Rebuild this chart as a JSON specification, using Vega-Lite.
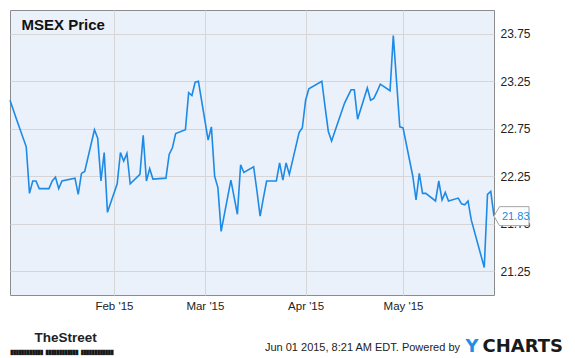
{
  "$schema": "https://vega.github.io/schema/vega-lite/v6.json",
  "width": 484,
  "height": 285,
  "autosize": {"type": "none"},
  "padding": {"left": 10, "top": 10, "right": 81, "bottom": 63},
  "background": "white",
  "config": {
    "view": {"fill": "#eaf1fb", "stroke": "#8c8c8c", "strokeWidth": 1},
    "font": "Liberation Sans",
    "axis": {"labelFont": "Liberation Sans", "titleFont": "Liberation Sans", "gridColor": "#d6d6d6", "gridWidth": 1, "gridOpacity": 1}
  },
  "data": {
    "values": [
      {"date": "2014-12-31", "price": 23.05},
      {"date": "2015-01-02", "price": 22.85},
      {"date": "2015-01-05", "price": 22.56},
      {"date": "2015-01-06", "price": 22.07},
      {"date": "2015-01-07", "price": 22.20},
      {"date": "2015-01-08", "price": 22.20},
      {"date": "2015-01-09", "price": 22.12},
      {"date": "2015-01-12", "price": 22.12},
      {"date": "2015-01-13", "price": 22.20},
      {"date": "2015-01-14", "price": 22.24},
      {"date": "2015-01-15", "price": 22.12},
      {"date": "2015-01-16", "price": 22.20},
      {"date": "2015-01-20", "price": 22.23},
      {"date": "2015-01-21", "price": 22.06},
      {"date": "2015-01-22", "price": 22.28},
      {"date": "2015-01-23", "price": 22.30},
      {"date": "2015-01-26", "price": 22.74},
      {"date": "2015-01-27", "price": 22.65},
      {"date": "2015-01-28", "price": 22.20},
      {"date": "2015-01-29", "price": 22.50},
      {"date": "2015-01-30", "price": 21.87},
      {"date": "2015-02-02", "price": 22.17},
      {"date": "2015-02-03", "price": 22.50},
      {"date": "2015-02-04", "price": 22.41},
      {"date": "2015-02-05", "price": 22.49},
      {"date": "2015-02-06", "price": 22.17},
      {"date": "2015-02-09", "price": 22.27},
      {"date": "2015-02-10", "price": 22.68},
      {"date": "2015-02-11", "price": 22.20},
      {"date": "2015-02-12", "price": 22.33},
      {"date": "2015-02-13", "price": 22.22},
      {"date": "2015-02-17", "price": 22.23},
      {"date": "2015-02-18", "price": 22.48},
      {"date": "2015-02-19", "price": 22.55},
      {"date": "2015-02-20", "price": 22.70},
      {"date": "2015-02-23", "price": 22.74},
      {"date": "2015-02-24", "price": 23.13},
      {"date": "2015-02-25", "price": 23.10},
      {"date": "2015-02-26", "price": 23.24},
      {"date": "2015-02-27", "price": 23.25},
      {"date": "2015-03-02", "price": 22.63},
      {"date": "2015-03-03", "price": 22.77},
      {"date": "2015-03-04", "price": 22.25},
      {"date": "2015-03-05", "price": 22.13},
      {"date": "2015-03-06", "price": 21.67},
      {"date": "2015-03-09", "price": 22.21},
      {"date": "2015-03-10", "price": 22.03},
      {"date": "2015-03-11", "price": 21.85},
      {"date": "2015-03-12", "price": 22.37},
      {"date": "2015-03-13", "price": 22.29},
      {"date": "2015-03-16", "price": 22.35},
      {"date": "2015-03-17", "price": 22.10},
      {"date": "2015-03-18", "price": 21.83},
      {"date": "2015-03-19", "price": 22.02},
      {"date": "2015-03-20", "price": 22.20},
      {"date": "2015-03-23", "price": 22.20},
      {"date": "2015-03-24", "price": 22.39},
      {"date": "2015-03-25", "price": 22.21},
      {"date": "2015-03-26", "price": 22.39},
      {"date": "2015-03-27", "price": 22.27},
      {"date": "2015-03-30", "price": 22.71},
      {"date": "2015-03-31", "price": 22.76},
      {"date": "2015-04-01", "price": 23.05},
      {"date": "2015-04-02", "price": 23.17},
      {"date": "2015-04-06", "price": 23.25},
      {"date": "2015-04-07", "price": 22.98},
      {"date": "2015-04-08", "price": 22.72},
      {"date": "2015-04-09", "price": 22.62},
      {"date": "2015-04-10", "price": 22.72},
      {"date": "2015-04-13", "price": 23.02},
      {"date": "2015-04-14", "price": 23.09},
      {"date": "2015-04-15", "price": 23.16},
      {"date": "2015-04-16", "price": 23.16},
      {"date": "2015-04-17", "price": 22.85},
      {"date": "2015-04-20", "price": 23.18},
      {"date": "2015-04-21", "price": 23.05},
      {"date": "2015-04-22", "price": 23.07},
      {"date": "2015-04-23", "price": 23.14},
      {"date": "2015-04-24", "price": 23.22},
      {"date": "2015-04-27", "price": 23.15},
      {"date": "2015-04-28", "price": 23.73},
      {"date": "2015-04-29", "price": 23.25},
      {"date": "2015-04-30", "price": 22.77},
      {"date": "2015-05-01", "price": 22.76},
      {"date": "2015-05-04", "price": 22.25},
      {"date": "2015-05-05", "price": 22.00},
      {"date": "2015-05-06", "price": 22.28},
      {"date": "2015-05-07", "price": 22.07},
      {"date": "2015-05-08", "price": 22.07},
      {"date": "2015-05-11", "price": 21.99},
      {"date": "2015-05-12", "price": 22.20},
      {"date": "2015-05-13", "price": 22.00},
      {"date": "2015-05-14", "price": 22.08},
      {"date": "2015-05-15", "price": 21.99},
      {"date": "2015-05-18", "price": 22.02},
      {"date": "2015-05-19", "price": 21.96},
      {"date": "2015-05-20", "price": 21.95},
      {"date": "2015-05-21", "price": 21.99},
      {"date": "2015-05-22", "price": 21.79},
      {"date": "2015-05-26", "price": 21.29},
      {"date": "2015-05-27", "price": 22.06},
      {"date": "2015-05-28", "price": 22.09},
      {"date": "2015-05-29", "price": 21.83}
    ]
  },
  "encoding": {
    "x": {
      "field": "date",
      "type": "temporal",
      "scale": {
        "type": "utc",
        "nice": false,
        "domain": [
          {"year": 2014, "month": 12, "date": 31, "utc": true},
          {"year": 2015, "month": 5, "date": 29, "utc": true}
        ]
      }
    },
    "y": {
      "field": "price",
      "type": "quantitative",
      "scale": {"domain": [21, 24], "nice": false, "zero": false}
    }
  },
  "resolve": {"axis": {"x": "independent", "y": "independent"}},
  "layer": [
    {
      "mark": {"type": "line", "color": "#1d8ae6", "strokeWidth": 1.6, "interpolate": "linear"},
      "encoding": {
        "x": {
          "field": "date",
          "type": "temporal",
          "axis": {
            "orient": "top",
            "values": [
              {"year": 2015, "month": 2, "date": 1, "utc": true},
              {"year": 2015, "month": 3, "date": 1, "utc": true},
              {"year": 2015, "month": 4, "date": 1, "utc": true},
              {"year": 2015, "month": 5, "date": 1, "utc": true}
            ],
            "grid": true,
            "labels": false,
            "ticks": false,
            "domain": false,
            "title": "MSEX Price",
            "titleX": 11,
            "titleY": 19.5,
            "titleAlign": "left",
            "titleAnchor": null,
            "titleAngle": 0,
            "titleBaseline": "alphabetic",
            "titleFontSize": 15,
            "titleFontWeight": "bold",
            "titleColor": "#111111"
          }
        },
        "y": {
          "field": "price",
          "type": "quantitative",
          "axis": {
            "orient": "right",
            "values": [21.25, 21.75, 22.25, 22.75, 23.25, 23.75],
            "format": ".2f",
            "grid": true,
            "ticks": false,
            "domain": false,
            "labelPadding": 6,
            "labelFontSize": 12,
            "labelColor": "#222222",
            "title": null
          }
        }
      }
    },
    {
      "transform": [{"filter": "utcmonth(datum.date) == 4 && utcdate(datum.date) == 29"}],
      "mark": {
        "type": "point",
        "shape": "M0,0L0.55,-0.95L3.5,-0.95L3.5,0.95L0.55,0.95Z",
        "size": 400,
        "filled": true,
        "fill": "white",
        "stroke": "#a3a3a3",
        "strokeWidth": 1,
        "opacity": 1
      },
      "encoding": {
        "x": {
          "field": "date",
          "type": "temporal",
          "axis": {
            "orient": "bottom",
            "values": [
              {"year": 2015, "month": 2, "date": 1, "utc": true},
              {"year": 2015, "month": 3, "date": 1, "utc": true},
              {"year": 2015, "month": 4, "date": 1, "utc": true},
              {"year": 2015, "month": 5, "date": 1, "utc": true}
            ],
            "labelExpr": "utcFormat(datum.value, \"%b '%y\")",
            "grid": false,
            "ticks": false,
            "domain": false,
            "labelPadding": 5,
            "labelFontSize": 11.5,
            "labelColor": "#222222",
            "title": "Jun 01 2015, 8:21 AM EDT.  Powered by",
            "titleX": 449.5,
            "titleY": 55,
            "titleAlign": "right",
            "titleAnchor": null,
            "titleBaseline": "alphabetic",
            "titleFontSize": 11,
            "titleFontWeight": "normal",
            "titleColor": "#222222"
          }
        },
        "y": {
          "field": "price",
          "type": "quantitative",
          "axis": {
            "orient": "left",
            "labels": false,
            "ticks": false,
            "domain": false,
            "grid": false,
            "title": "TheStreet",
            "titleAngle": 0,
            "titleX": 24,
            "titleY": 331,
            "titleAlign": "left",
            "titleAnchor": null,
            "titleBaseline": "alphabetic",
            "titleFont": "Liberation Sans",
            "titleFontSize": 13.5,
            "titleFontWeight": "bold",
            "titleColor": "#222222"
          }
        }
      }
    },
    {
      "transform": [{"filter": "utcmonth(datum.date) == 4 && utcdate(datum.date) == 29"}],
      "mark": {"type": "text", "align": "left", "baseline": "middle", "dx": 8, "dy": 1, "fontSize": 11, "color": "#1d8ae6"},
      "encoding": {
        "text": {"field": "price", "type": "quantitative", "format": ".2f"},
        "x": {
          "field": "date",
          "type": "temporal",
          "axis": {
            "orient": "bottom",
            "labels": false,
            "ticks": false,
            "domain": false,
            "grid": false,
            "title": "CHARTS",
            "titleX": 472,
            "titleY": 56,
            "titleAlign": "left",
            "titleAnchor": null,
            "titleBaseline": "alphabetic",
            "titleFont": "DejaVu Sans",
            "titleFontSize": 18,
            "titleFontWeight": "bold",
            "titleColor": "#1a1a1a"
          }
        },
        "y": {
          "field": "price",
          "type": "quantitative",
          "axis": {
            "orient": "left",
            "labels": false,
            "ticks": false,
            "domain": false,
            "grid": false,
            "title": "████████████  ████████████  ████████████",
            "titleAngle": 0,
            "titleX": 0,
            "titleY": 343,
            "titleAlign": "left",
            "titleAnchor": null,
            "titleBaseline": "alphabetic",
            "titleFont": "DejaVu Sans Mono",
            "titleFontSize": 4.5,
            "titleFontWeight": "normal",
            "titleColor": "#1a1a1a"
          }
        }
      }
    },
    {
      "transform": [{"filter": "utcmonth(datum.date) == 4 && utcdate(datum.date) == 29"}],
      "mark": {"type": "point", "opacity": 0},
      "encoding": {
        "x": {
          "field": "date",
          "type": "temporal",
          "axis": {
            "orient": "bottom",
            "labels": false,
            "ticks": false,
            "domain": false,
            "grid": false,
            "title": "Y",
            "titleX": 455,
            "titleY": 56,
            "titleAlign": "left",
            "titleAnchor": null,
            "titleBaseline": "alphabetic",
            "titleFont": "DejaVu Sans",
            "titleFontSize": 18,
            "titleFontWeight": "bold",
            "titleColor": "#1e8fe6"
          }
        },
        "y": {"field": "price", "type": "quantitative", "axis": null}
      }
    }
  ]
}
